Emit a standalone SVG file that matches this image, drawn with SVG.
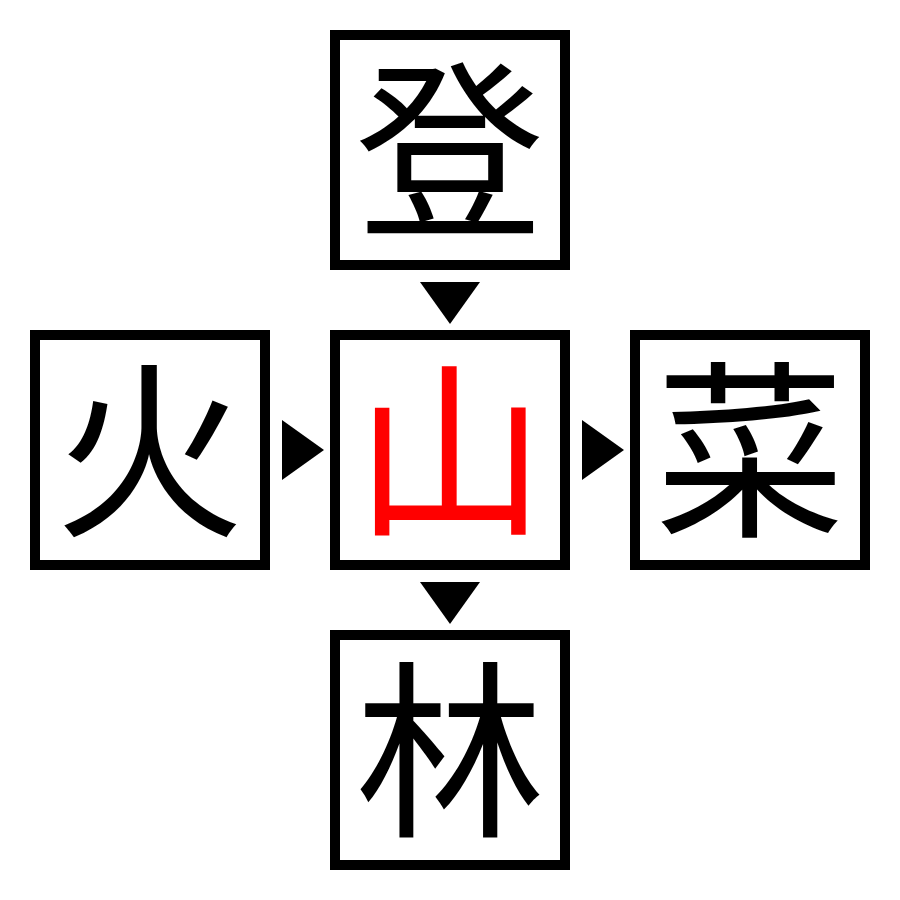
<svg xmlns="http://www.w3.org/2000/svg" width="900" height="900" viewBox="0 0 900 900">
<style>
.box{fill:#fff;stroke:#000;stroke-width:10}
.ch{font-family:"Noto Sans CJK JP","Noto Sans CJK SC",sans-serif;font-size:190px;text-anchor:middle;fill:#000}
.red{fill:#f00}
.arr{fill:#000}
</style>
<rect width="900" height="900" fill="#fff"/>
<g id="top"><rect class="box" x="335" y="35" width="230" height="230"/><text class="ch" x="450" y="222">登</text></g>
<g id="left"><rect class="box" x="35" y="335" width="230" height="230"/><text class="ch" x="150" y="522">火</text></g>
<g id="center"><rect class="box" x="335" y="335" width="230" height="230"/><text class="ch red" x="450" y="522">山</text></g>
<g id="right"><rect class="box" x="635" y="335" width="230" height="230"/><text class="ch" x="750" y="522">菜</text></g>
<g id="bottom"><rect class="box" x="335" y="635" width="230" height="230"/><text class="ch" x="450" y="822">林</text></g>
<g id="connectors">
<polygon class="arr" points="420,282 480,282 450,324"/>
<polygon class="arr" points="282,420 282,480 324,450"/>
<polygon class="arr" points="582,420 582,480 624,450"/>
<polygon class="arr" points="420,582 480,582 450,624"/>
</g>
</svg>
